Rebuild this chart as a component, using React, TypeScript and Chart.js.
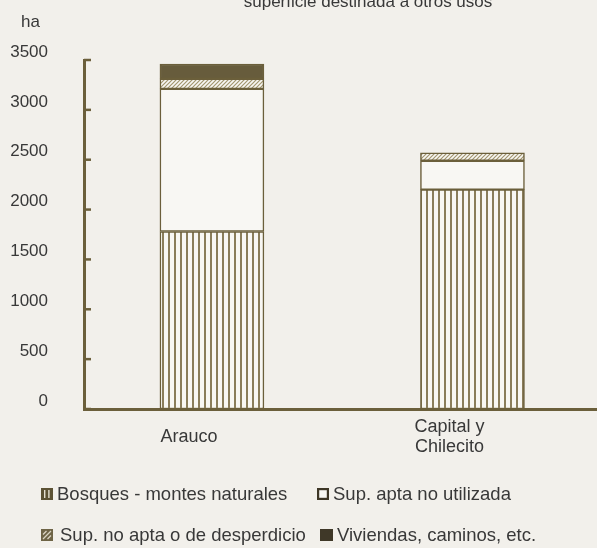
import React, { useEffect, useRef } from 'react';
import { Chart, registerables } from 'chart.js';

Chart.register(...registerables);

// ---- data ----
const categories = ['Arauco', 'Capital y Chilecito'];
const categoryLines = [['Arauco'], ['Capital y', 'Chilecito']];
const seriesNames = [
  'Bosques - montes naturales',
  'Sup. apta no utilizada',
  'Sup. no apta o de desperdicio',
  'Viviendas, caminos, etc.',
];
const bosques = [1780, 2200];
const aptaNoUtilizada = [1430, 290];
const noApta = [100, 80];
const viviendas = [150, 0];
const yTicks = [0, 500, 1000, 1500, 2000, 2500, 3000, 3500];
const yUnit = 'ha';
const titleText = 'superficie destinada a otros usos';

// ---- styles ----
const OLIVE = '#6b5f3b';
const DARK = '#5c5234';
const PAPER = '#f2f0eb';
const BARWHITE = '#f8f7f3';
const TEXT = '#383838';
const FONT = "'Liberation Sans', Arial, Helvetica, sans-serif";
const FS_Y = 17;
const FS_X = 18;
const FS_LEG = 18.5;

function makeStripes(): CanvasPattern | string {
  const c = document.createElement('canvas');
  c.width = 6;
  c.height = 6;
  const ctx = c.getContext('2d');
  if (!ctx) return '#aaa';
  ctx.fillStyle = BARWHITE;
  ctx.fillRect(0, 0, 6, 6);
  ctx.fillStyle = '#8a7d5a';
  ctx.fillRect(0, 0, 2, 6);
  return ctx.createPattern(c, 'repeat') || '#aaa';
}

function makeHatch(bg: string, fg: string, size: number, lw: number): CanvasPattern | string {
  const c = document.createElement('canvas');
  c.width = size;
  c.height = size;
  const ctx = c.getContext('2d');
  if (!ctx) return fg;
  ctx.fillStyle = bg;
  ctx.fillRect(0, 0, size, size);
  ctx.strokeStyle = fg;
  ctx.lineWidth = lw;
  ctx.beginPath();
  ctx.moveTo(-1, size + 1);
  ctx.lineTo(size + 1, -1);
  ctx.moveTo(-1, 1);
  ctx.lineTo(1, -1);
  ctx.moveTo(size - 1, size + 1);
  ctx.lineTo(size + 1, size - 1);
  ctx.stroke();
  return ctx.createPattern(c, 'repeat') || fg;
}

const decorPlugin = {
  id: 'decor',
  beforeDraw(chart: any) {
    const ctx = chart.ctx;
    ctx.save();
    ctx.fillStyle = PAPER;
    ctx.fillRect(0, 0, chart.width, chart.height);
    ctx.restore();
  },
  afterDraw(chart: any) {
    const ctx: CanvasRenderingContext2D = chart.ctx;
    const area = chart.chartArea;
    const yScale = chart.scales.y;
    ctx.save();
    // inward tick marks on y axis
    ctx.strokeStyle = OLIVE;
    ctx.lineWidth = 2.5;
    yTicks.forEach((v) => {
      const y = yScale.getPixelForValue(v);
      ctx.beginPath();
      ctx.moveTo(area.left, y);
      ctx.lineTo(area.left + 7, y);
      ctx.stroke();
    });
    // title (cut at top edge)
    ctx.fillStyle = TEXT;
    ctx.font = `17px ${FONT}`;
    ctx.textAlign = 'center';
    ctx.textBaseline = 'alphabetic';
    ctx.fillText(titleText, 368, 7);
    // unit
    ctx.font = `${FS_Y}px ${FONT}`;
    ctx.textAlign = 'left';
    ctx.fillText(yUnit, 21, 27);

    // legend
    const pStripeLegend = (x: number, y: number) => {
      ctx.fillStyle = DARK;
      ctx.fillRect(x, y, 12, 12);
      ctx.fillStyle = '#e6e1d2';
      ctx.fillRect(x + 3, y + 2, 1.4, 8);
      ctx.fillRect(x + 7.2, y + 2, 1.4, 8);
    };
    const pWhiteLegend = (x: number, y: number) => {
      ctx.fillStyle = BARWHITE;
      ctx.fillRect(x, y, 12, 12);
      ctx.strokeStyle = '#3d3626';
      ctx.lineWidth = 2.2;
      ctx.strokeRect(x + 1.1, y + 1.1, 9.8, 9.8);
    };
    const pHatchLegend = (x: number, y: number) => {
      ctx.fillStyle = '#6e6446';
      ctx.fillRect(x, y, 12, 12);
      ctx.strokeStyle = '#d9d3c2';
      ctx.lineWidth = 1.3;
      ctx.beginPath();
      ctx.moveTo(x + 2, y + 10);
      ctx.lineTo(x + 10, y + 2);
      ctx.moveTo(x + 2, y + 5.5);
      ctx.lineTo(x + 5.5, y + 2);
      ctx.moveTo(x + 6.5, y + 10);
      ctx.lineTo(x + 10, y + 6.5);
      ctx.stroke();
    };
    const pDarkLegend = (x: number, y: number) => {
      ctx.fillStyle = '#3f3828';
      ctx.fillRect(x, y, 13, 12);
    };
    const items = [
      { draw: pStripeLegend, bx: 41, tx: 57, cy: 494, text: seriesNames[0] },
      { draw: pWhiteLegend, bx: 317, tx: 333, cy: 494, text: seriesNames[1] },
      { draw: pHatchLegend, bx: 41, tx: 60, cy: 535, text: seriesNames[2] },
      { draw: pDarkLegend, bx: 320, tx: 337, cy: 535, text: seriesNames[3] },
    ];
    ctx.font = `${FS_LEG}px ${FONT}`;
    ctx.textBaseline = 'middle';
    ctx.textAlign = 'left';
    items.forEach((it) => {
      it.draw(it.bx, it.cy - 6);
      ctx.fillStyle = TEXT;
      ctx.fillText(it.text, it.tx, it.cy + 1);
    });
    ctx.restore();
  },
};

export default function App() {
  const ref = useRef<HTMLCanvasElement | null>(null);
  useEffect(() => {
    if (!ref.current) return;
    const stripes = makeStripes();
    const hatch = makeHatch(BARWHITE, '#a2966f', 4, 1.2);
    const series = [bosques, aptaNoUtilizada, noApta, viviendas];
    const fills = [stripes, BARWHITE, hatch, '#675c3c'];
    const chart = new Chart(ref.current, {
      type: 'bar',
      data: {
        datasets: series.map((vals, si) => ({
          label: seriesNames[si],
          data: vals.map((v, i) => ({ x: i, y: v })),
          backgroundColor: fills[si] as any,
          borderColor: OLIVE,
          borderWidth: 1.5,
          borderSkipped: false,
          barThickness: 104,
        })),
      },
      options: {
        animation: false,
        responsive: false,
        maintainAspectRatio: false,
        events: [],
        layout: { padding: { top: 60, bottom: 89, left: 0, right: 0 } },
        plugins: {
          legend: { display: false },
          tooltip: { enabled: false },
          title: { display: false },
        },
        scales: {
          x: {
            type: 'linear',
            min: -0.491,
            max: 1.478,
            offset: false,
            stacked: true,
            grid: { display: false, drawTicks: false, offset: false },
            border: { display: true, color: OLIVE, width: 3 },
            afterBuildTicks: (s: any) => {
              s.ticks = categories.map((_, i) => ({ value: i }));
            },
            afterFit: (s: any) => {
              s.height = 50;
            },
            ticks: {
              autoSkip: false,
              maxRotation: 0,
              minRotation: 0,
              padding: 18,
              labelOffset: -23,
              crossAlign: 'center',
              color: TEXT,
              font: { family: FONT, size: FS_X, lineHeight: 20 / FS_X },
              callback: (v: any) => categoryLines[Math.round(Number(v))] ?? '',
            },
          },
          y: {
            type: 'linear',
            min: 0,
            max: 3500,
            stacked: true,
            grid: { display: false, drawTicks: false },
            border: { display: true, color: OLIVE, width: 3 },
            afterBuildTicks: (s: any) => {
              s.ticks = yTicks.map((v) => ({ value: v }));
            },
            afterFit: (s: any) => {
              s.width = 84;
            },
            ticks: {
              padding: 36,
              labelOffset: -8,
              color: TEXT,
              font: { family: FONT, size: FS_Y },
              callback: (v: any) => String(v),
            },
          },
        },
      } as any,
      plugins: [decorPlugin],
    });
    return () => chart.destroy();
  }, []);
  return (
    <div style={{ position: 'absolute', left: 0, top: 0, width: 597, height: 548, background: PAPER, overflow: 'hidden' }}>
      <canvas ref={ref} width={597} height={548} style={{ display: 'block', width: 597, height: 548 }} />
    </div>
  );
}
